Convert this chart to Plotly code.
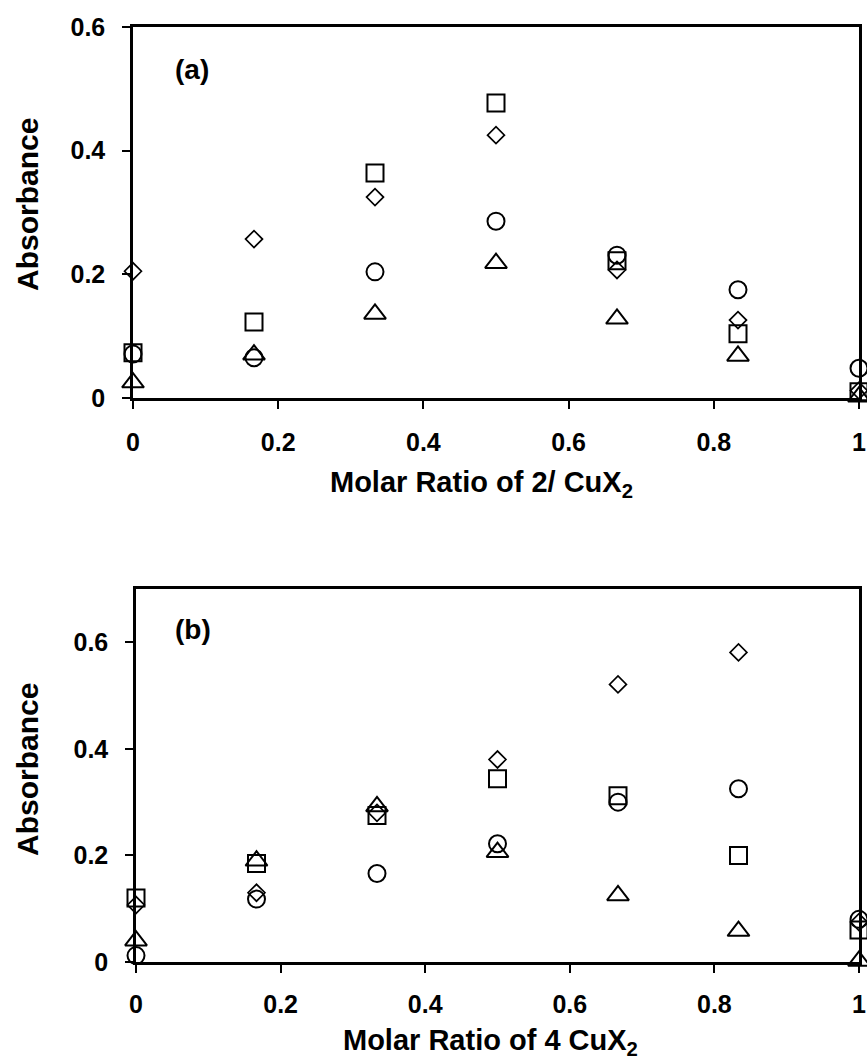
import plotly.graph_objects as go

W, H = 867, 1060

# ---------------- data ----------------
ratio = [0, 1/6, 1/3, 0.5, 2/3, 5/6, 1]

# panel (a): Molar ratio of 2 / CuX2
a_diamond = [0.205, 0.257, 0.325, 0.425, 0.207, 0.126, 0.012]
a_square = [0.073, 0.123, 0.364, 0.477, 0.222, 0.104, 0.010]
a_circle = [0.071, 0.065, 0.204, 0.286, 0.231, 0.175, 0.048]
a_triangle = [0.025, 0.070, 0.136, 0.218, 0.128, 0.068, 0.002]

# panel (b): Molar ratio of 4 CuX2
b_diamond = [0.107, 0.130, 0.280, 0.380, 0.521, 0.581, 0.075]
b_square = [0.120, 0.185, 0.275, 0.344, 0.312, 0.200, 0.060]
b_circle = [0.012, 0.118, 0.166, 0.222, 0.300, 0.325, 0.080]
b_triangle = [0.040, 0.190, 0.292, 0.206, 0.125, 0.058, 0.002]

x_ticks = [0, 0.2, 0.4, 0.6, 0.8, 1]
x_ticktext = ["0", "0.2", "0.4", "0.6", "0.8", "1"]
y_ticks = [0, 0.2, 0.4, 0.6]
y_ticktext = ["0", "0.2", "0.4", "0.6"]

FONT = "Liberation Sans, Arial, sans-serif"

def px_x(p):
    return p / W

def px_y(p):
    return 1 - p / H

fig = go.Figure()

def add_series(xaxis, yaxis, diamond, square, circle, triangle):
    specs = [
        (diamond, "diamond-open", 13, 1.7),
        (square, "square-open", 17, 2.0),
        (circle, "circle-open", 17, 2.0),
        (triangle, "triangle-up-open", 19, 2.0),
    ]
    for vals, sym, size, lw in specs:
        fig.add_trace(go.Scatter(
            x=ratio, y=vals, mode="markers", xaxis=xaxis, yaxis=yaxis,
            cliponaxis=False, showlegend=False, hoverinfo="skip",
            marker=dict(symbol=sym, size=size, color="black",
                        line=dict(color="black", width=lw)),
        ))

add_series("x", "y", a_diamond, a_square, a_circle, a_triangle)
add_series("x2", "y2", b_diamond, b_square, b_circle, b_triangle)

axis_common = dict(
    showline=True, linecolor="black", linewidth=2.5, mirror=True,
    ticks="outside", ticklen=8, tickwidth=2, tickcolor="black",
    showgrid=False, zeroline=False, ticklabeloverflow="allow",
    tickfont=dict(family=FONT, size=25, color="black", weight="bold"),
)

fig.update_layout(
    width=W, height=H,
    margin=dict(l=0, r=0, t=0, b=0),
    paper_bgcolor="white", plot_bgcolor="white",
    xaxis=dict(axis_common, domain=[px_x(133), px_x(859)], range=[0, 1],
               tickvals=x_ticks, ticktext=x_ticktext, anchor="y",
               ticklabelstandoff=12, automargin=False),
    yaxis=dict(axis_common, domain=[px_y(398), px_y(27)], range=[0, 0.6],
               tickvals=y_ticks, ticktext=y_ticktext, anchor="x",
               ticklabelstandoff=12, automargin=False),
    xaxis2=dict(axis_common, domain=[px_x(136), px_x(859)], range=[0, 1],
                tickvals=x_ticks, ticktext=x_ticktext, anchor="y2",
                ticklabelstandoff=10, automargin=False),
    yaxis2=dict(axis_common, domain=[px_y(962), px_y(589)], range=[0, 0.7],
                tickvals=y_ticks, ticktext=y_ticktext, anchor="x2",
                ticklabelstandoff=12, automargin=False),
)

title_font = dict(family=FONT, size=29, color="black", weight="bold")
ytitle_font = dict(family=FONT, size=30, color="black", weight="bold")
label_font = dict(family=FONT, size=28, color="black", weight="bold")

annotations = [
    dict(text="Molar Ratio of 2/ CuX<sub>2</sub>", x=px_x(481), y=px_y(484)),
    dict(text="Molar Ratio of 4 CuX<sub>2</sub>", x=px_x(490), y=px_y(1042)),
]
for a in annotations:
    fig.add_annotation(xref="paper", yref="paper", xanchor="center", yanchor="middle",
                       showarrow=False, font=title_font, **a)

for txt, yc in [("Absorbance", 205), ("Absorbance", 770)]:
    fig.add_annotation(text=txt, xref="paper", yref="paper", x=px_x(27), y=px_y(yc),
                       xanchor="center", yanchor="middle", textangle=-90,
                       showarrow=False, font=ytitle_font)

for txt, xc, yc in [("(a)", 192, 69), ("(b)", 193, 629)]:
    fig.add_annotation(text=txt, xref="paper", yref="paper", x=px_x(xc), y=px_y(yc),
                       xanchor="center", yanchor="middle", showarrow=False,
                       font=label_font)

fig.write_html(
    "out.html",
    config={"displayModeBar": False},
    post_script="document.body.style.margin='0';document.body.style.padding='0';"
                "document.body.style.overflow='hidden';",
)
